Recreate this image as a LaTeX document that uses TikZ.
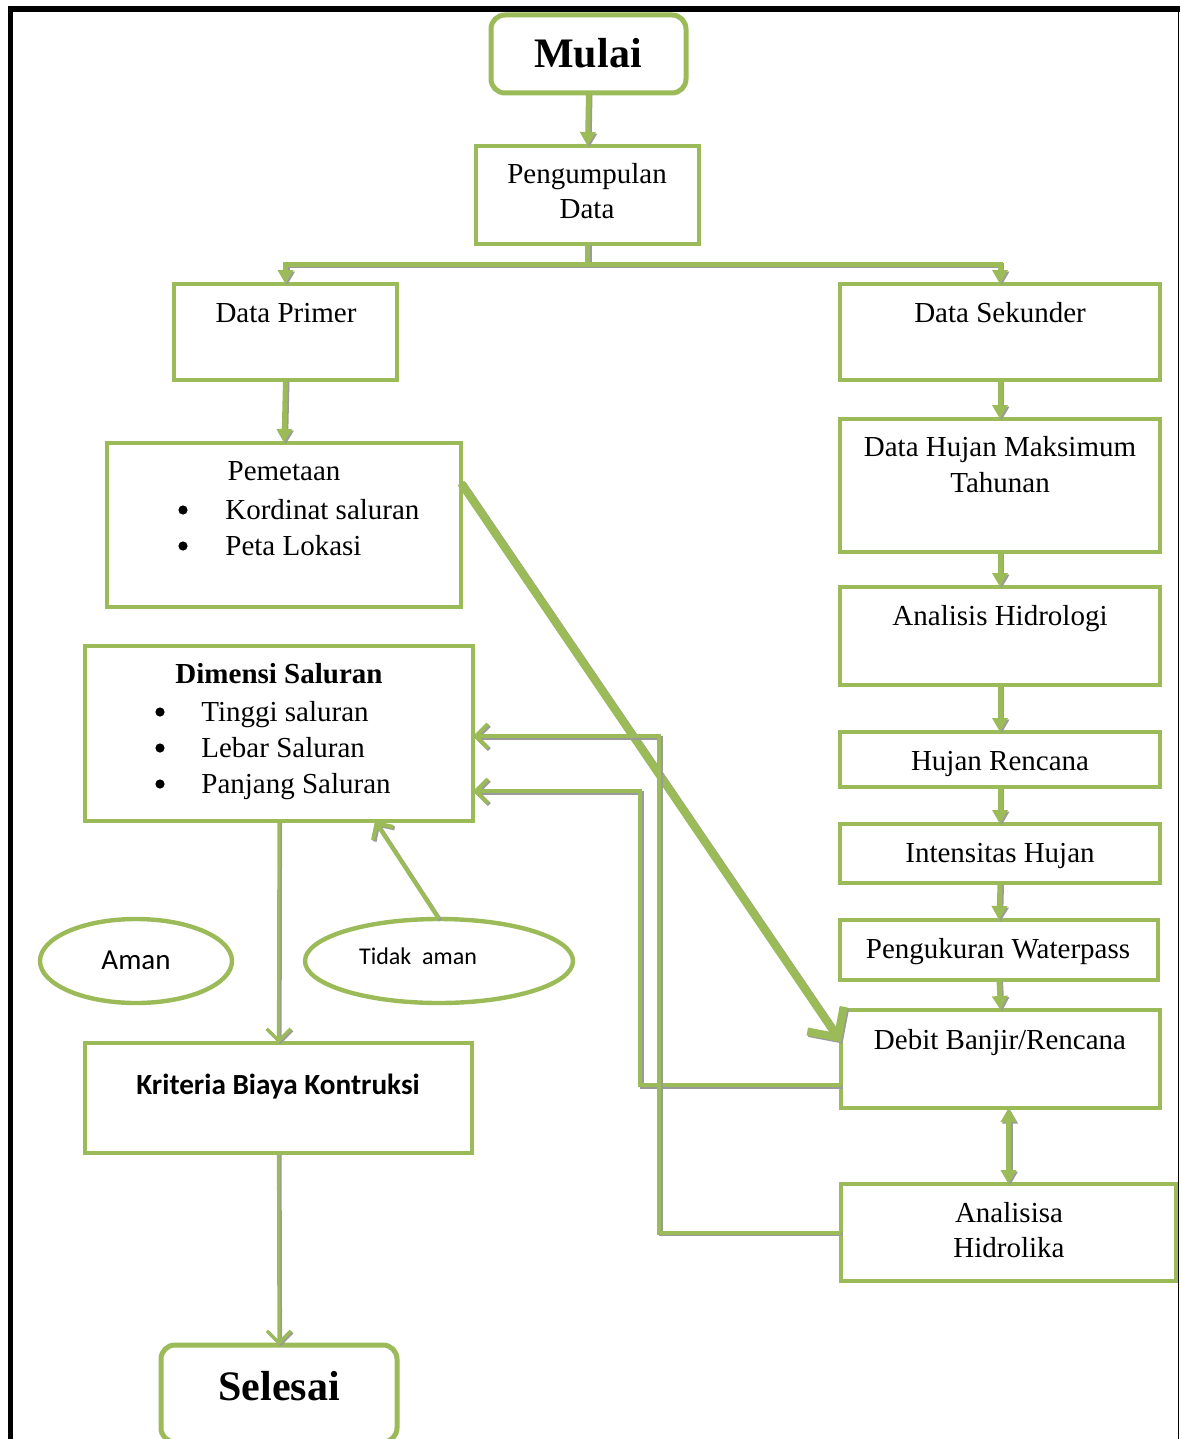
\documentclass[tikz,border=0pt]{standalone}
\usepackage{fontspec}
\setmainfont{Liberation Serif}
\newfontfamily\calibri{Carlito}
\usetikzlibrary{arrows.meta,shapes.geometric,calc,fit}
\definecolor{ogreen}{HTML}{9BBB59}
\definecolor{shgray}{HTML}{9A9A9A}
\begin{document}
\begin{tikzpicture}[x=0.5pt,y=-0.5pt,
  box/.style={draw=ogreen,line width=2pt,rectangle,inner sep=0pt,outer sep=0pt},
  rbox/.style={box,line width=2.5pt,rounded corners=7pt},
  ell/.style={draw=ogreen,line width=2.2pt,ellipse,inner sep=0pt,outer sep=0pt},
  txt/.style={inner sep=0pt,anchor=base,font=\fontsize{14.5}{18}\selectfont},
  ltxt/.style={txt,anchor=base west},
  bul/.style={circle,fill=black,inner sep=0pt,minimum size=4.6pt},
  big/.style={inner sep=0pt,anchor=base,font=\fontsize{21}{24}\selectfont\bfseries},
  gline/.style={draw=ogreen,line width=#1,
     preaction={draw=shgray,line width=#1,transform canvas={shift={(1.5,1.5)}}}},
  gline/.default=2.5pt,
  tri/.style={-{Triangle[length=7pt,width=7.5pt]}},
  tritwo/.style={{Triangle[length=7pt,width=7.5pt]}-{Triangle[length=7pt,width=7.5pt]}},
  barb/.style={-{Straight Barb[length=6pt,width=12pt]}},
  bigbarb/.style={-{Straight Barb[length=11pt,width=22pt]}}
]
\useasboundingbox (0,0) rectangle (1180,1439);
% frame
\draw[line width=3pt] (8,9.5) -- (1180,9.5);
\draw[line width=2.6pt] (10.5,8) -- (10.5,1439);
\draw[line width=0.8pt] (1178.5,9.5) -- (1178.5,1439);

% boxes
\node[rbox,fit={(491,15) (686,93)}] (mul) {};
\node[box,fit={(476,146) (699,244)}] (pd) {};
\node[box,fit={(174,284) (397,380)}] (dp) {};
\node[box,fit={(840,284) (1160,380)}] (ds) {};
\node[box,fit={(107,443) (461,607)}] (pem) {};
\node[box,fit={(840,419) (1160,552)}] (dh) {};
\node[box,fit={(840,587) (1160,685)}] (ah) {};
\node[box,fit={(85,646) (473,821)}] (dim) {};
\node[box,fit={(840,732) (1160,787)}] (hr) {};
\node[box,fit={(840,824) (1160,883)}] (ih) {};
\node[box,fit={(840,920) (1158,980)}] (pw) {};
\node[box,fit={(841,1010) (1160,1108)}] (deb) {};
\node[box,fit={(841,1184) (1176,1281)}] (an) {};
\node[box,fit={(85,1043) (472,1153)}] (kr) {};
\node[rbox,fit={(161,1345) (397,1442)}] (sel) {};
\node[ell,minimum width=192pt*0.5,minimum height=84pt*0.5] (aman) at (136,961) {};
\node[ell,minimum width=268pt*0.5,minimum height=84pt*0.5] (taman) at (439,961) {};

% texts
\node[big] (tmul) at (588,68) {Mulai};
\node[txt] (tpd1) at (587,184) {Pengumpulan};
\node[txt] (tpd2) at (587,219) {Data};
\node[txt] (tdp) at (286,322) {Data Primer};
\node[txt] (tds) at (1000,322) {Data Sekunder};
\node[txt] (tpem) at (284,480) {Pemetaan};
\node[bul] (bp1) at (183,510) {};
\node[ltxt] (tpem1) at (225,519) {Kordinat saluran};
\node[bul] (bp2) at (183,546) {};
\node[ltxt] (tpem2) at (225,555) {Peta Lokasi};
\node[txt] (tdh1) at (1000,456) {Data Hujan Maksimum};
\node[txt] (tdh2) at (1000,492) {Tahunan};
\node[txt] (tah) at (1000,625) {Analisis Hidrologi};
\node[txt,font=\fontsize{14.5}{18}\selectfont\bfseries] (tdim) at (279,683) {Dimensi Saluran};
\node[bul] (bd1) at (160,712) {};
\node[ltxt] (tdim1) at (201,721) {Tinggi saluran};
\node[bul] (bd2) at (160,748) {};
\node[ltxt] (tdim2) at (201,757) {Lebar Saluran};
\node[bul] (bd3) at (160,784) {};
\node[ltxt] (tdim3) at (201,793) {Panjang Saluran};
\node[txt] (thr) at (1000,770) {Hujan Rencana};
\node[txt] (tih) at (1000,862) {Intensitas Hujan};
\node[txt] (tpw) at (998,958) {Pengukuran Waterpass};
\node[txt] (tdeb) at (1000,1049) {Debit Banjir/Rencana};
\node[txt] (tan1) at (1009,1222) {Analisisa};
\node[txt] (tan2) at (1009,1257) {Hidrolika};
\node[txt,font=\calibri\fontsize{14.6}{17}\selectfont\bfseries] (tkr) at (278,1094) {Kriteria Biaya Kontruksi};
\node[big] (tsel) at (279,1400) {Selesai};
\node[txt,font=\calibri\fontsize{14.5}{17}\selectfont] (taman1) at (136,969) {Aman};
\node[txt,font=\calibri\fontsize{12}{14}\selectfont] (taman2) at (418,964) {Tidak\ \ aman};

% connectors
\draw[gline,tri] (mul.south) -- (pd.north);
\draw[gline,tri] (pd.south) -- ++(0,20) -| (dp.north);
\draw[gline,tri] (pd.south) -- ++(0,20) -| (ds.north);
\draw[gline,tri] (dp.south) -- (pem.north);
\draw[gline,tri] (ds.south) -- (dh.north);
\draw[gline,tri] (dh.south) -- (ah.north);
\draw[gline,tri] (ah.south) -- (hr.north);
\draw[gline,tri] (hr.south) -- (ih.north);
\draw[gline,tri] (ih.south) -- (pw.north);
\draw[gline,tri] (pw.south) -- (deb.north);
\draw[gline,tritwo] (deb.south -| an.north) -- (an.north);
\draw[gline=4pt,bigbarb] ($(pem.north east)+(0,40)$) -- ($(deb.north west)+(0,32)$);
\draw[gline=2pt,barb] ($(deb.south west)+(0,-23)$) -- ++(-201,0) |- ($(dim.east)+(0,57.5)$);
\draw[gline=2pt,barb] (an.west) -- ++(-182,0) |- ($(dim.east)+(0,2.5)$);
\draw[gline=2pt,barb] (taman.north) -- ($(dim.south)+(96,0)$);
\draw[gline=1.6pt,barb] (dim.south) -- (kr.north);
\draw[gline=1.6pt,barb] (kr.south) -- (sel.north);
\end{tikzpicture}
\end{document}
